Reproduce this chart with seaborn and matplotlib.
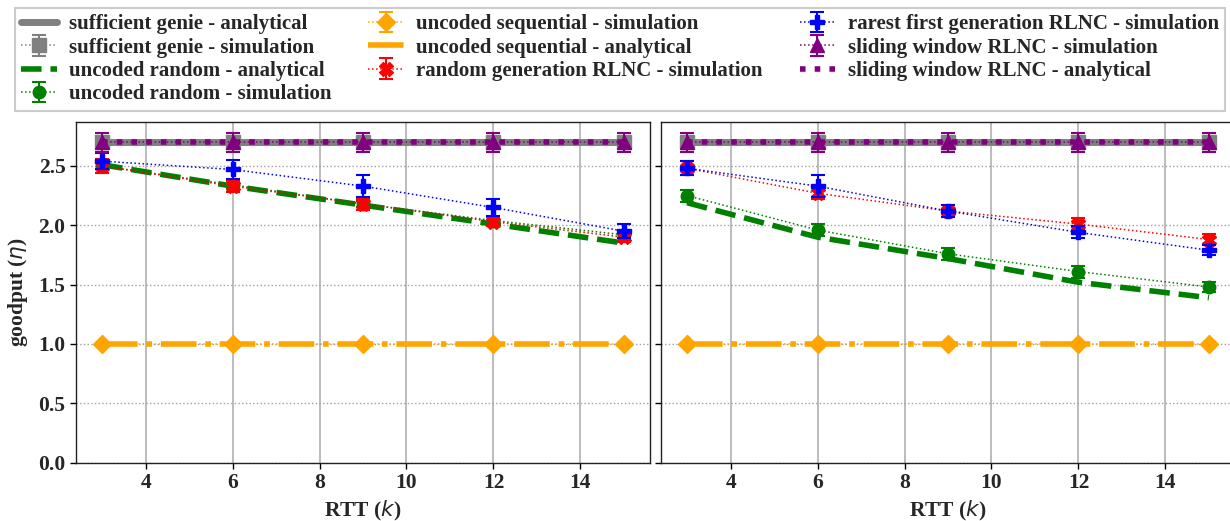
import numpy as np
import pandas as pd
import matplotlib
matplotlib.use("Agg")
import matplotlib.pyplot as plt
import seaborn as sns

# ---------------- data ----------------
rtt = [3, 6, 9, 12, 15]

# left panel
genie_an_L = [2.70, 2.70, 2.70, 2.70, 2.70]
genie_sim_L = [2.70, 2.70, 2.70, 2.70, 2.70]
genie_err_L = [0.05, 0.05, 0.05, 0.05, 0.05]
rand_an_L = [2.51, 2.33, 2.17, 2.01, 1.85]
rand_sim_L = [2.50, 2.34, 2.18, 2.04, 1.92]
rand_err_L = [0.03, 0.03, 0.03, 0.03, 0.03]
seq_sim_L = [1.0, 1.0, 1.0, 1.0, 1.0]
seq_err_L = [0.0, 0.0, 0.0, 0.0, 0.0]
seq_an_L = [1.0, 1.0, 1.0, 1.0, 1.0]
rlnc_sim_L = [2.50, 2.33, 2.18, 2.03, 1.90]
rlnc_err_L = [0.06, 0.05, 0.05, 0.04, 0.04]
rare_sim_L = [2.54, 2.47, 2.33, 2.15, 1.95]
rare_err_L = [0.07, 0.08, 0.09, 0.07, 0.06]
sw_sim_L = [2.70, 2.70, 2.70, 2.70, 2.70]
sw_err_L = [0.08, 0.08, 0.08, 0.08, 0.08]
sw_an_L = [2.70, 2.70, 2.70, 2.70, 2.70]

# right panel
genie_an_R = [2.70, 2.70, 2.70, 2.70, 2.70]
genie_sim_R = [2.70, 2.70, 2.70, 2.70, 2.70]
genie_err_R = [0.05, 0.05, 0.05, 0.05, 0.05]
rand_an_R = [2.19, 1.90, 1.72, 1.52, 1.39]
rand_sim_R = [2.25, 1.96, 1.76, 1.61, 1.48]
rand_err_R = [0.05, 0.05, 0.05, 0.05, 0.04]
seq_sim_R = [1.0, 1.0, 1.0, 1.0, 1.0]
seq_err_R = [0.0, 0.0, 0.0, 0.0, 0.0]
seq_an_R = [1.0, 1.0, 1.0, 1.0, 1.0]
rlnc_sim_R = [2.48, 2.27, 2.12, 2.01, 1.88]
rlnc_err_R = [0.06, 0.05, 0.05, 0.05, 0.05]
rare_sim_R = [2.48, 2.33, 2.12, 1.94, 1.79]
rare_err_R = [0.06, 0.09, 0.05, 0.05, 0.04]
sw_sim_R = [2.70, 2.70, 2.70, 2.70, 2.70]
sw_err_R = [0.08, 0.08, 0.08, 0.08, 0.08]
sw_an_R = [2.70, 2.70, 2.70, 2.70, 2.70]

labels = [
    "sufficient genie - analytical",
    "sufficient genie - simulation",
    "uncoded random - analytical",
    "uncoded random - simulation",
    "uncoded sequential - simulation",
    "uncoded sequential - analytical",
    "random generation RLNC - simulation",
    "rarest first generation RLNC - simulation",
    "sliding window RLNC - simulation",
    "sliding window RLNC - analytical",
]
yticks = [0.0, 0.5, 1.0, 1.5, 2.0, 2.5]
xticks = [4, 6, 8, 10, 12, 14]

# ---------------- style ----------------
sns.set_theme(style="ticks")
plt.rcParams["font.family"] = ["Liberation Serif", "DejaVu Sans"]
plt.rcParams["font.weight"] = "bold"
plt.rcParams["axes.labelweight"] = "bold"
plt.rcParams["mathtext.fontset"] = "custom"
plt.rcParams["mathtext.it"] = "DejaVu Sans:italic:normal"
plt.rcParams["mathtext.rm"] = "DejaVu Sans:normal"
plt.rcParams["mathtext.bf"] = "DejaVu Sans:bold"

fig = plt.figure(figsize=(12.3, 5.21), dpi=100)
axL = fig.add_axes([76 / 1230, 1 - 462.7 / 521, 574 / 1230, 340.7 / 521])
axR = fig.add_axes([661 / 1230, 1 - 462.7 / 521, 574 / 1230, 340.7 / 521], sharey=axL)

GRAY = "#808080"
GREEN = "#008000"
ORANGE = "#FFA500"
RED = "#FF0000"
BLUE = "#0000FF"
PURPLE = "#800080"

def analytical(ax, y, color, ls, lw, label, z):
    df = pd.DataFrame({"x": rtt, "y": y})
    sns.lineplot(data=df, x="x", y="y", ax=ax, color=color, linestyle=ls,
                 linewidth=lw, label=label, zorder=z, legend=False)

def simulation(ax, y, err, color, marker, ms, label, z):
    ax.errorbar(rtt, y, yerr=err, color=color, marker=marker, markersize=ms,
                linestyle=":", linewidth=1.1, elinewidth=1.5, capsize=5,
                capthick=1.5, label=label, zorder=z)

handles_by_label = {}
for ax, d in [
    (axL, dict(ga=genie_an_L, gs=genie_sim_L, ge=genie_err_L, ra=rand_an_L, rs=rand_sim_L,
               re=rand_err_L, ss=seq_sim_L, se=seq_err_L, sa=seq_an_L, ls=rlnc_sim_L,
               le=rlnc_err_L, fs=rare_sim_L, fe=rare_err_L, ws=sw_sim_L, we=sw_err_L,
               wa=sw_an_L)),
    (axR, dict(ga=genie_an_R, gs=genie_sim_R, ge=genie_err_R, ra=rand_an_R, rs=rand_sim_R,
               re=rand_err_R, ss=seq_sim_R, se=seq_err_R, sa=seq_an_R, ls=rlnc_sim_R,
               le=rlnc_err_R, fs=rare_sim_R, fe=rare_err_R, ws=sw_sim_R, we=sw_err_R,
               wa=sw_an_R)),
]:
    analytical(ax, d["ga"], GRAY, "-", 5, labels[0], 3)
    simulation(ax, d["gs"], d["ge"], GRAY, "s", 10, labels[1], 4)
    simulation(ax, d["rs"], d["re"], GREEN, "o", 9, labels[3], 4)
    analytical(ax, d["ra"], GREEN, "--", 4, labels[2], 5)
    simulation(ax, d["ss"], d["se"], ORANGE, "D", 9, labels[4], 6)
    analytical(ax, d["sa"], ORANGE, "-.", 4, labels[5], 5)
    simulation(ax, d["ls"], d["le"], RED, "X", 10, labels[6], 6)
    simulation(ax, d["fs"], d["fe"], BLUE, "P", 10, labels[7], 7)
    simulation(ax, d["ws"], d["we"], PURPLE, "^", 10, labels[8], 8)
    analytical(ax, d["wa"], PURPLE, ":", 4, labels[9], 7)
    if ax is axL:
        h, l = ax.get_legend_handles_labels()
        handles_by_label = dict(zip(l, h))

for ax in (axL, axR):
    ax.set_xlim(2.4, 15.6)
    ax.set_ylim(0, 2.87)
    ax.set_xticks(xticks)
    ax.set_yticks(yticks)
    ax.xaxis.grid(True, color="#b0b0b0", linestyle="-", linewidth=1.2)
    ax.yaxis.grid(True, color="#a0a0a0", linestyle=":", linewidth=1.0)
    ax.set_axisbelow(True)
    ax.tick_params(axis="both", labelsize=15.5, length=4, width=1, color="black")
    for lab in ax.get_xticklabels() + ax.get_yticklabels():
        lab.set_fontweight("bold")
    for sp in ax.spines.values():
        sp.set_color("#222222")
        sp.set_linewidth(1.0)
    ax.set_xlabel("RTT ($k$)", fontsize=15.5, fontweight="bold", labelpad=4)
    ax.set_ylabel("")

axL.set_ylabel("goodput ($\\eta$)", fontsize=15.5, fontweight="bold", labelpad=6)
axL.yaxis.set_major_formatter(matplotlib.ticker.FormatStrFormatter("%.1f"))
plt.setp(axR.get_yticklabels(), visible=False)

handles = [handles_by_label[l] for l in labels]
leg = fig.legend(handles, labels, loc="upper left",
                 bbox_to_anchor=(15 / 1230, 1 - 8 / 521, 1210 / 1230, 0.0),
                 mode="expand", ncol=3, borderaxespad=0.0,
                 prop={"family": "Liberation Serif", "weight": "bold", "size": 15},
                 labelspacing=0.16, handlelength=1.7, handletextpad=0.6,
                 borderpad=0.3, fancybox=False, framealpha=1.0, edgecolor="#cccccc")
leg.get_frame().set_linewidth(1.5)

fig.savefig("out.png", dpi=100)
